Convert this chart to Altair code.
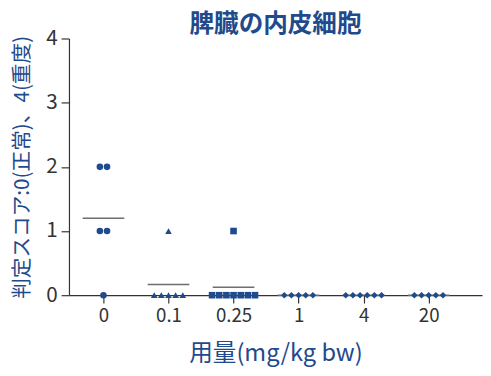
import altair as alt
import pandas as pd

doses = ["0", "0.1", "0.25", "1", "4", "20"]
scores = [
    [2, 2, 1, 1, 0],
    [1, 0, 0, 0, 0, 0],
    [1, 0, 0, 0, 0, 0, 0, 0],
    [0, 0, 0, 0, 0],
    [0, 0, 0, 0, 0, 0],
    [0, 0, 0, 0, 0],
]
shapes = ["circle", "triangle-up", "square", "diamond", "diamond", "diamond"]
title_text = "脾臓の内皮細胞"
x_title = "用量(mg/kg bw)"
y_title = "判定スコア:0(正常)、4(重度)"

rows = []
for i, (d, s) in enumerate(zip(doses, scores)):
    for v in s:
        rows.append({"dose": d, "idx": i, "score": v})
df = pd.DataFrame(rows)

blue = "#1f4a8c"
font = "Noto Sans CJK JP"
xscale = alt.Scale(domain=[-0.53, 5.82], nice=False, zero=False)
yscale = alt.Scale(domain=[0, 4], nice=False)
label_expr = "[" + ",".join(f'"{d}"' for d in doses) + "][datum.value]"

base = alt.Chart(df)

means = base.transform_aggregate(
    mean="mean(score)", groupby=["dose", "idx"]
).transform_calculate(
    x1="datum.idx - 0.32", x2="datum.idx + 0.32"
).mark_rule(color="#6e6e6e", strokeWidth=1.5).encode(
    x=alt.X("x1:Q", scale=xscale,
            axis=alt.Axis(values=list(range(6)), labelExpr=label_expr, title=x_title,
                          grid=False, titlePadding=16, labelFontSize=19, titleFontSize=24)),
    x2="x2:Q",
    y=alt.Y("mean:Q", scale=yscale,
            axis=alt.Axis(values=[0, 1, 2, 3, 4], format="d", title=y_title, grid=False,
                          titlePadding=13, titleFontSize=21, labelFontSize=21)),
)

points = base.transform_window(
    rank="row_number()", groupby=["dose", "score"]
).transform_joinaggregate(
    n="count()", groupby=["dose", "score"]
).transform_calculate(
    xpos="datum.idx + (datum.rank - (datum.n + 1) / 2) * 0.11"
).mark_point(filled=True, size=45, opacity=1, clip=False).encode(
    x=alt.X("xpos:Q", scale=xscale),
    y=alt.Y("score:Q", scale=yscale),
    shape=alt.Shape("dose:N", scale=alt.Scale(domain=doses, range=shapes), legend=None),
    color=alt.value(blue),
)

chart = alt.layer(means, points).properties(
    width=420,
    height=261,
    autosize=alt.AutoSizeParams(type="none"),
    padding={"left": 62, "top": 28, "right": 1, "bottom": 71},
    title=alt.TitleParams(title_text, fontSize=25, fontWeight="bold", color=blue,
                          font=font, anchor="middle", offset=-9),
).configure_view(stroke=None).configure_axis(
    domainColor="#333333", tickColor="#333333", tickSize=8,
    labelColor="#333333", titleColor=blue, titleFontWeight="normal",
    titleFont=font, labelFont=font, labelPadding=4,
    domainWidth=1.2, tickWidth=1.2,
)

chart.save("out.html", embed_options={"renderer": "svg", "actions": False})
